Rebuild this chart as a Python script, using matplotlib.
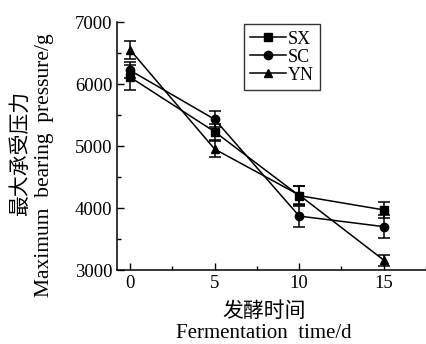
import matplotlib
matplotlib.use('Agg')
import matplotlib.pyplot as plt
from matplotlib.lines import Line2D
from matplotlib.ticker import MultipleLocator

days = [0, 5, 10, 15]
sx = [6110, 5230, 4200, 3970]
sx_err = [200, 130, 150, 130]
sc = [6220, 5430, 3870, 3700]
sc_err = [130, 130, 170, 190]
yn = [6550, 4950, 4210, 3160]
yn_err = [140, 130, 140, 90]

serif = ['Liberation Serif', 'DejaVu Serif']
cjk = ['Noto Sans CJK SC', 'Liberation Serif']
plt.rcParams['font.family'] = serif

fig = plt.figure(figsize=(4.26, 3.44), dpi=100)
ax = fig.add_axes([0.275, 0.215, 0.725, 0.721])

series = [('SX', sx, sx_err, 's'), ('SC', sc, sc_err, 'o'), ('YN', yn, yn_err, '^')]
handles = []
for name, vals, err, mk in series:
    ax.errorbar(days, vals, yerr=err, color='black', marker=mk, markersize=6,
                linewidth=1.1, elinewidth=1.1, capsize=4, capthick=1.1)
    handles.append(Line2D([], [], color='black', marker=mk, markersize=6,
                          linewidth=1.1, label=name))

ax.set_xlim(-0.77, 17.5)
ax.set_ylim(3000, 7000)
ax.xaxis.set_major_locator(MultipleLocator(5))
ax.xaxis.set_minor_locator(MultipleLocator(2.5))
ax.yaxis.set_major_locator(MultipleLocator(1000))
ax.yaxis.set_minor_locator(MultipleLocator(500))
ax.tick_params(which='both', direction='in', width=1, labelsize=13.5)
ax.tick_params(which='major', length=5)
ax.tick_params(which='minor', length=3)
ax.spines['top'].set_visible(False)
ax.spines['right'].set_visible(False)
for s in ['left', 'bottom']:
    ax.spines[s].set_linewidth(1.1)

fig.text(0.047, 0.555, '最大承受压力', rotation=90, ha='center', va='center',
         fontsize=15, family=cjk)
fig.text(0.105, 0.52, 'Maximum  bearing  pressure/g', rotation=90, ha='center',
         va='center', fontsize=15.5)
fig.text(0.62, 0.095, '发酵时间', ha='center', va='center', fontsize=15, family=cjk)
fig.text(0.62, 0.03, 'Fermentation  time/d', ha='center', va='center', fontsize=15)

leg = ax.legend(handles=handles, loc='upper left', bbox_to_anchor=(0.41, 0.99),
                fontsize=13, frameon=True, fancybox=False, edgecolor='black',
                handlelength=2.0, handletextpad=0.1, borderpad=0.35,
                labelspacing=0.05, borderaxespad=0)
leg.get_frame().set_linewidth(1.0)

fig.savefig('out.png', dpi=100)
